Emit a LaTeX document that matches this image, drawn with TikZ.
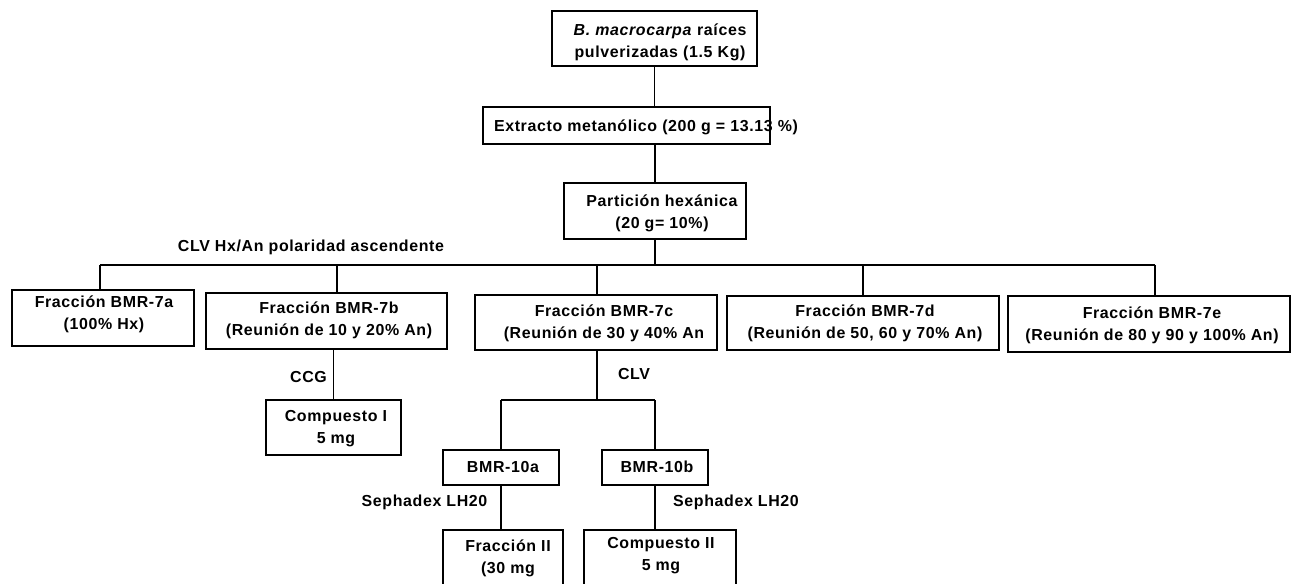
\documentclass[tikz,border=0pt]{standalone}
\usepackage{fontspec}
\setmainfont{Liberation Sans}[LetterSpace=4]
\begin{document}
\begin{tikzpicture}[x=1bp,y=-1bp,line width=1.3bp,
  box/.style={draw,inner sep=0pt},
  txt/.style={font=\bfseries\fontsize{16}{22}\selectfont,align=center,inner sep=0pt},
  lbl/.style={font=\bfseries\fontsize{16}{22}\selectfont,inner sep=0pt}]
\useasboundingbox (0,0) rectangle (1294,584);
\clip (0,0) rectangle (1294,584);
% boxes
\node[box,minimum width=205bp,minimum height=55bp] (top) at (654.5,38.5) {};
\node[box,minimum width=287bp,minimum height=37bp] (ext) at (626.5,125.5) {};
\node[box,minimum width=182bp,minimum height=56bp] (par) at (655,211) {};
\node[box,minimum width=182bp,minimum height=56bp] (a) at (103,318) {};
\node[box,minimum width=241bp,minimum height=56bp] (b) at (326.5,321) {};
\node[box,minimum width=242bp,minimum height=55bp] (c) at (596,322.5) {};
\node[box,minimum width=272bp,minimum height=54bp] (d) at (863,323) {};
\node[box,minimum width=282bp,minimum height=56bp] (e) at (1149,324) {};
\node[box,minimum width=135bp,minimum height=55bp] (cI) at (333.5,427.5) {};
\node[box,minimum width=116bp,minimum height=35bp] (ta) at (501,467.5) {};
\node[box,minimum width=106bp,minimum height=35bp] (tb) at (655,467.5) {};
\node[box,minimum width=120bp,minimum height=70bp] (f2) at (503,565) {};
\node[box,minimum width=152bp,minimum height=70bp] (c2) at (660,565) {};
% texts
\node[txt] (topT) at (660,42) {\textit{B. macrocarpa} raíces\\pulverizadas (1.5 Kg)};
\node[txt] (extT) at (646,127) {Extracto metanólico (200 g = 13.13 \%)};
\node[txt] (parT) at (662,213.5) {Partición hexánica\\(20 g= 10\%)};
\node[txt] (aT) at (104,314) {Fracción BMR-7a\\(100\% Hx)};
\node[txt] (bT) at (329,320) {Fracción BMR-7b\\(Reunión de 10 y 20\% An)};
\node[txt] (cT) at (604,323.5) {Fracción BMR-7c\\(Reunión de 30 y 40\% An};
\node[txt] (dT) at (865,323.5) {Fracción BMR-7d\\(Reunión de 50, 60 y 70\% An)};
\node[txt] (eT) at (1152,325) {Fracción BMR-7e\\(Reunión de 80 y 90 y 100\% An)};
\node[txt] (cIT) at (336,428.5) {Compuesto I\\5 mg};
\node[txt] (taT) at (503,467) {BMR-10a};
\node[txt] (tbT) at (657,467) {BMR-10b};
\node[txt] (f2T) at (508,558) {Fracción II\\(30 mg};
\node[txt] (c2T) at (661,556) {Compuesto II\\5 mg};
% labels
\node[lbl] (l1) at (311,247) {CLV Hx/An polaridad ascendente};
\node[lbl] (l2) at (308.5,377) {CCG};
\node[lbl] (l3) at (634,374) {CLV};
\node[lbl] (l4) at (424.5,502) {Sephadex LH20};
\node[lbl] (l5) at (736,502) {Sephadex LH20};
% connector points
\coordinate (barL) at (100,265);
\coordinate (barR) at (1155,265);
\coordinate (jb) at (337,265);
\coordinate (jc) at (597,265);
\coordinate (jd) at (863,265);
\coordinate (sp) at (597,400);
% connectors
\draw (top.south) -- (top.south |- ext.north);
\draw (ext.south -| par.north) -- (par.north);
\draw (par.south) -- (par.south |- barL);
\draw (barL) -- (barR);
\draw (barL) -- (barL |- a.north);
\draw (jb) -- (jb |- b.north);
\draw (jc) -- (jc |- c.north);
\draw (jd) -- (jd |- d.north);
\draw (barR) -- (barR |- e.north);
\draw (cI.north |- b.south) -- (cI.north);
\draw (c.south -| sp) -- (sp);
\draw (ta.north |- sp) -- (tb.north |- sp);
\draw (ta.north |- sp) -- (ta.north);
\draw (tb.north |- sp) -- (tb.north);
\draw (ta.south) -- (ta.south |- f2.north);
\draw (tb.south) -- (tb.south |- c2.north);
\end{tikzpicture}
\end{document}
